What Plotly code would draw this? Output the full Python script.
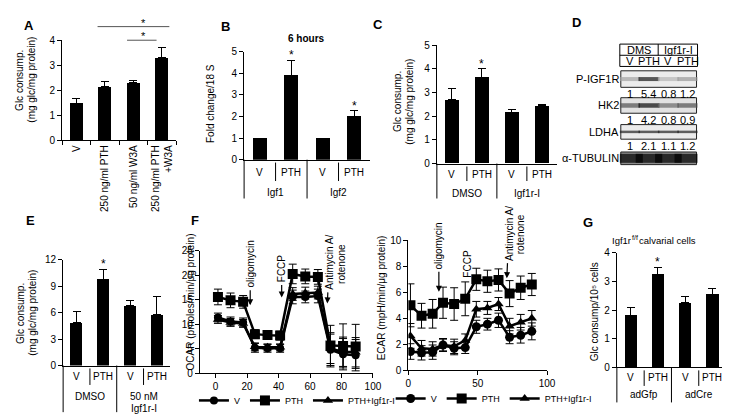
import plotly.graph_objects as go

W, H = 730, 415
FONT = "Liberation Sans, Arial, sans-serif"

# ---------------- data ----------------
A_labels = ["V", "250 ng/ml PTH", "50 ng/ml W3A", "250 ng/ml PTH<br>+W3A"]
A_values = [1.47, 2.13, 2.30, 3.30]
A_errors = [0.20, 0.20, 0.07, 0.42]

B_sub = ["V", "PTH", "V", "PTH"]
B_groups = [["Igf1"], ["Igf2"]]
B_values = [1.0, 3.92, 1.0, 2.01]
B_errors = [0.0, 0.68, 0.0, 0.27]
B_stars = [1, 3]

C_sub = ["V", "PTH", "V", "PTH"]
C_groups = [["DMSO"], ["Igf1r-I"]]
C_values = [2.70, 3.65, 2.17, 2.43]
C_errors = [0.47, 0.35, 0.11, 0.08]
C_stars = [1]

D_top = ["DMS", "Igf1r-I"]
D_lanes = ["V", "PTH", "V", "PTH"]
D_blots = ["P-IGF1R", "HK2", "LDHA", "α-TUBULIN"]
D_quant = [["1", "5.4", "0.8", "1.2"],
           ["1", "4.2", "0.8", "0.9"],
           ["1", "2.1", "1.1", "1.2"]]
D_intensity = [[0.30, 0.90, 0.22, 0.35],
               [0.65, 0.95, 0.55, 0.65],
               [0.85, 0.85, 0.85, 0.85],
               [1.00, 1.00, 1.00, 1.00]]

E_sub = ["V", "PTH", "V", "PTH"]
E_groups = [["DMSO"], ["50 nM", "Igf1r-I"]]
E_values = [4.9, 9.8, 6.75, 5.75]
E_errors = [1.2, 1.1, 0.65, 2.1]
E_stars = [1]

F_time = [1.5, 9.5, 17.5, 25, 33, 41, 49, 57, 65, 73, 81, 89]
OCAR_V = [11.4, 10.6, 10.4, 5.2, 5.1, 5.1, 15.6, 15.6, 15.8, 4.8, 3.9, 3.7]
OCAR_V_err = [0.9, 0.9, 0.9, 0.9, 0.8, 0.8, 1.4, 1.2, 1.4, 3.5, 3.2, 3.2]
OCAR_PTH = [15.6, 14.9, 14.6, 8.0, 7.8, 7.7, 20.3, 19.8, 19.7, 5.7, 5.6, 5.5]
OCAR_PTH_err = [1.6, 1.5, 1.3, 0.9, 0.8, 0.9, 2.0, 1.5, 1.5, 4.1, 4.5, 4.5]
OCAR_PI = [11.0, 10.4, 10.2, 5.4, 5.3, 5.3, 16.2, 16.4, 16.5, 5.0, 4.4, 4.3]
OCAR_PI_err = [0.8, 0.8, 0.8, 0.8, 0.7, 0.7, 1.3, 1.2, 1.3, 3.0, 3.0, 3.0]

ECAR_V = [1.45, 1.35, 1.40, 1.95, 1.70, 1.75, 3.35, 3.55, 3.85, 2.55, 2.70, 3.00]
ECAR_V_err = [0.6, 0.55, 0.55, 0.45, 0.5, 0.45, 0.5, 0.45, 0.55, 0.5, 0.6, 0.65]
ECAR_PTH = [5.0, 4.2, 4.35, 5.2, 5.1, 5.5, 7.0, 6.85, 6.95, 5.9, 6.35, 6.6]
ECAR_PTH_err = [1.65, 0.95, 1.1, 1.2, 1.25, 1.3, 0.85, 0.85, 0.85, 1.0, 0.9, 0.85]
ECAR_PI = [2.65, 1.70, 1.65, 1.95, 1.85, 2.30, 4.70, 4.80, 5.10, 3.40, 3.70, 4.00]
ECAR_PI_err = [0.95, 0.6, 0.55, 0.5, 0.55, 0.5, 0.6, 0.5, 0.5, 0.6, 0.6, 0.6]
F_series = ["V", "PTH", "PTH+Igf1r-I"]
F_injections = [["oligomycin"], ["FCCP"], ["Antimycin A/", "rotenone"]]
F_inj_time = [22, 42, 71]

G_sub = ["V", "PTH", "V", "PTH"]
G_groups = [["adGfp"], ["adCre"]]
G_values = [1.83, 3.25, 2.27, 2.56]
G_errors = [0.25, 0.25, 0.20, 0.21]
G_stars = [1]
G_title = ["Igf1r", "f/f", "calvarial cells"]

GLC_TITLE = ["Glc consump.", "(mg glc/mg protein)"]


# ---------------- helpers ----------------
def fx(px):
    return px / W


def fy(py):
    return 1 - py / H


fig = go.Figure()
annotations = []
shapes = []
layout_axes = {}


def names(n):
    return ("x" if n == 1 else f"x{n}", "y" if n == 1 else f"y{n}")


def lnames(n):
    return ("xaxis" if n == 1 else f"xaxis{n}", "yaxis" if n == 1 else f"yaxis{n}")


def text(x, y, s, size=10, bold=False, angle=0, xanchor="center", yanchor="middle",
         xref="paper", yref="paper", yshift=0, xshift=0, pad=1):
    annotations.append(dict(x=x, y=y, xref=xref, yref=yref,
                            text=f"<b>{s}</b>" if bold else s, showarrow=False,
                            font=dict(size=size, family=FONT, color="black"),
                            textangle=angle, xanchor=xanchor, yanchor=yanchor,
                            yshift=yshift, xshift=xshift, borderpad=pad))


def vtext(xc, yc, lines, size=10, gap=12):
    """Vertical (rotated) multi-line title: one annotation per line."""
    n = len(lines)
    for i, s in enumerate(lines):
        text(fx(xc + (i - (n - 1) / 2) * gap), fy(yc), s, size, angle=-90)


def vline(xp, y0p, y1p, width=1):
    shapes.append(dict(type="line", xref="paper", yref="paper", x0=fx(xp), x1=fx(xp),
                       y0=fy(y0p), y1=fy(y1p), line=dict(color="black", width=width)))


def hline(x0p, x1p, yp, width=1, color="black"):
    shapes.append(dict(type="line", xref="paper", yref="paper", x0=fx(x0p), x1=fx(x1p),
                       y0=fy(yp), y1=fy(yp), line=dict(color=color, width=width)))


def axis_common():
    return dict(showline=True, linecolor="black", linewidth=1, showgrid=False,
                zeroline=False, fixedrange=True,
                tickfont=dict(size=10, family=FONT, color="black"))


def bar_panel(n, values, errors, xpx, ypx, yrange, dtick, stars):
    xa, ya = names(n)
    k = len(values)
    fig.add_trace(go.Bar(
        x=list(range(k)), y=values, width=0.45,
        marker=dict(color="black", line=dict(width=0)),
        error_y=dict(type="data", array=errors, arrayminus=[0] * k, symmetric=False,
                     color="black", thickness=1, width=4),
        xaxis=xa, yaxis=ya, showlegend=False, hoverinfo="skip"))
    lx, ly = lnames(n)
    ax = axis_common()
    ax.update(domain=[fx(xpx[0]), fx(xpx[1])], range=[-0.5, k - 0.5], anchor=ya,
              showticklabels=False, ticks="", tickmode="array", tickvals=[])
    ay = axis_common()
    ay.update(domain=[fy(ypx[1]), fy(ypx[0])], range=list(yrange), dtick=dtick,
              anchor=xa, ticks="outside", ticklen=4, tickcolor="black")
    layout_axes[lx] = ax
    layout_axes[ly] = ay
    for i in stars:
        text(i, values[i] + errors[i], "*", size=12, xref=xa, yref=ya,
             yanchor="bottom", yshift=-4)


def table(n, sub, groups, xpx, axis_px, row1, row2top, subbot, grpbot):
    xa, ya = names(n)
    k = len(sub)
    per = k // len(groups)
    step = (xpx[1] - xpx[0]) / k
    for i, s in enumerate(sub):
        text(i, fy(row1), s, 10, xref=xa)
    for g, lines in enumerate(groups):
        for li, s in enumerate(lines):
            text(g * per + (per - 1) / 2, fy(row2top + 13 * li), s, 10, xref=xa,
                 yanchor="top")
    for b in range(k):
        xp = xpx[0] + b * step
        if b % per == 0:
            vline(xp, axis_px, grpbot)
        else:
            vline(xp, axis_px + 3, subbot)


# ---------------- Panel A ----------------
bar_panel(1, A_values, A_errors, (52, 168), (27, 130), (0, 4), 1, [])
layout_axes["xaxis"].update(showticklabels=True, tickvals=list(range(4)),
                            ticktext=A_labels, tickangle=-90,
                            minor=dict(tickvals=[-0.5, 0.5, 1.5, 2.5, 3.5],
                                       ticks="outside", ticklen=4, tickcolor="black"))
# significance brackets
hline(88, 161, 13, color="#555")
hline(118, 148, 27, color="#555")
text(fx(135), fy(9), "*", 11)
text(fx(135), fy(23), "*", 11)
vtext(14, 68, GLC_TITLE)
text(fx(18), fy(12), "A", 13, bold=True)

# ---------------- Panel B ----------------
bar_panel(2, B_values, B_errors, (237, 365), (39, 150), (0, 5), 1, B_stars)
table(2, B_sub, B_groups, (237, 365), 150, 163, 176, 172, 190)
text(fx(300), fy(25), "6 hours", 10, bold=True)
vtext(203, 92, ["Fold change/18 S"])
text(fx(218), fy(13), "B", 13, bold=True)

# ---------------- Panel C ----------------
bar_panel(3, C_values, C_errors, (433, 555), (32, 154), (0, 5), 1, C_stars)
table(3, C_sub, C_groups, (433, 555), 154, 165, 177, 172, 190)
vtext(399, 90, GLC_TITLE)
text(fx(373), fy(11), "C", 13, bold=True)

# ---------------- Panel D (western blot) ----------------
D_x0, D_x1 = 619, 698
D_row_c0, D_row_step = 67, 27.2
D_box_h = [17, 16, 15, 13]
xa4, ya4 = names(4)
bx, by, bsize, bwid, bcol = [], [], [], [], []
for r, row in enumerate(D_intensity):
    for i, v in enumerate(row):
        bx.append(i + 0.5)
        by.append(r)
        g = int(round(235 * (1 - v)))
        bcol.append(f"rgb({g},{g},{g})")
        bsize.append(19 if r == 3 else 15)
        bwid.append([4, 4.5, 2.5, 9][r])
fig.add_trace(go.Scatter(x=bx, y=by, mode="markers", xaxis=xa4, yaxis=ya4,
                         marker=dict(symbol="line-ew", size=bsize, color="black",
                                     line=dict(width=bwid, color=bcol)),
                         showlegend=False, hoverinfo="skip"))
layout_axes["xaxis4"] = dict(domain=[fx(D_x0), fx(D_x1)], range=[0, 4], visible=False,
                             anchor=ya4, fixedrange=True, tickfont=dict(size=10))
layout_axes["yaxis4"] = dict(domain=[fy(D_row_c0 + 3.5 * D_row_step), fy(D_row_c0 - 0.5 * D_row_step)],
                             range=[3.5, -0.5], visible=False, anchor=xa4, fixedrange=True,
                             tickfont=dict(size=10))
box_fill = ["#ececec", "#e2e2e2", "#ebebeb", "#8c8c8c"]
for r, name in enumerate(D_blots):
    c = D_row_c0 + r * D_row_step
    h = D_box_h[r]
    shapes.append(dict(type="rect", xref="paper", yref="paper", layer="below",
                       x0=fx(D_x0 + 1), x1=fx(D_x1 - 1), y0=fy(c + h / 2), y1=fy(c - h / 2),
                       fillcolor=box_fill[r], line=dict(color="#222", width=1)))
    text(fx(D_x0 + 1), fy(c), name, 11, xanchor="right")
for r, q in enumerate(D_quant):
    c = D_row_c0 + r * D_row_step + 15
    for i, s in enumerate(q):
        text(i + 0.5, fy(c), s, 11, xref=xa4)
# header box
shapes.append(dict(type="rect", xref="paper", yref="paper", x0=fx(D_x0), x1=fx(D_x1),
                   y0=fy(54), y1=fy(31), line=dict(color="black", width=1)))
hline(D_x0, D_x1, 42.5)
vline((D_x0 + D_x1) / 2 - 0.5, 31, 42.5)
for g, s in enumerate(D_top):
    text(g * 2 + 1, fy(37), s, 11, xref=xa4)
for i, s in enumerate(D_lanes):
    text(i + 0.5, fy(48.5), s, 11, xref=xa4)
text(fx(575), fy(9), "D", 13, bold=True)

# ---------------- Panel E ----------------
bar_panel(5, E_values, E_errors, (53, 162), (253, 362), (0, 12), 3, E_stars)
table(5, E_sub, E_groups, (53, 162), 362, 373, 386, 382, 410)
vtext(15, 308, GLC_TITLE)
text(fx(20), fy(213), "E", 13, bold=True)

# ---------------- Panel F ----------------
def line_trace(y, err, symbol, size, name, xa, ya, legend):
    return go.Scatter(x=F_time, y=y, mode="lines+markers", name=name,
                      line=dict(color="black", width=2.5),
                      marker=dict(symbol=symbol, size=size, color="black"),
                      error_y=dict(type="data", array=err, color="black", thickness=1, width=4),
                      xaxis=xa, yaxis=ya, legend=legend, hoverinfo="skip")


xa6, ya6 = names(6)
xa7, ya7 = names(7)
fig.add_trace(line_trace(OCAR_V, OCAR_V_err, "circle", 8, F_series[0], xa6, ya6, "legend"))
fig.add_trace(line_trace(OCAR_PTH, OCAR_PTH_err, "square", 10, F_series[1], xa6, ya6, "legend"))
fig.add_trace(line_trace(OCAR_PI, OCAR_PI_err, "triangle-up", 9, F_series[2], xa6, ya6, "legend"))
fig.add_trace(line_trace(ECAR_V, ECAR_V_err, "circle", 9, F_series[0], xa7, ya7, "legend2"))
fig.add_trace(line_trace(ECAR_PTH, ECAR_PTH_err, "square", 10, F_series[1], xa7, ya7, "legend2"))
fig.add_trace(line_trace(ECAR_PI, ECAR_PI_err, "triangle-up", 9, F_series[2], xa7, ya7, "legend2"))

ax6 = axis_common()
ax6.update(domain=[fx(192), fx(368)], range=[-10, 100], tickvals=[0, 20, 40, 60, 80, 100],
           ticks="outside", ticklen=4, tickcolor="black", anchor=ya6)
ay6 = axis_common()
ay6.update(domain=[fy(370), fy(244)], range=[0, 25], dtick=5, ticks="outside", ticklen=4,
           tickcolor="black", anchor=xa6)
ax7 = axis_common()
ax7.update(domain=[fx(404), fx(545)], range=[0, 100], dtick=50, ticks="outside", ticklen=4,
           tickcolor="black", anchor=ya7)
ay7 = axis_common()
ay7.update(domain=[fy(367), fy(233)], range=[0, 10], dtick=2, ticks="outside", ticklen=4,
           tickcolor="black", anchor=xa7)
layout_axes.update(xaxis6=ax6, yaxis6=ay6, xaxis7=ax7, yaxis7=ay7)

vtext(182, 297, ["OCAR (pmoles/min/μg protein)"])
vtext(377, 292, ["ECAR (mpH/min/μg protein)"])
text(fx(187), fy(213), "F", 13, bold=True)

# injection labels with arrows: (label centre y, arrow head y) in px
ocar_lbl = [(259, 300), (263, 292), (257, 298)]
ecar_lbl = [(240, 286), (258, 276), (227, 272)]
for (lbls, xa) in ((ocar_lbl, xa6), (ecar_lbl, xa7)):
    for j, lines in enumerate(F_injections):
        yc, head = lbls[j]
        xoff = 2 if len(lines) > 1 else 0
        annotations.append(dict(x=F_inj_time[j], y=fy(head), xref=xa, yref="paper",
                                text=lines[0], showarrow=True, ax=xoff, ay=yc - head,
                                textangle=-90, arrowhead=2, arrowsize=1,
                                arrowwidth=1.2, arrowcolor="black", standoff=0,
                                startstandoff=1,
                                font=dict(size=10, family=FONT, color="black")))
        for li, s in enumerate(lines[1:], start=1):
            text(F_inj_time[j], fy(yc), s, 10, angle=-90, xref=xa, xshift=xoff + 12 * li)

# ---------------- Panel G ----------------
bar_panel(8, G_values, G_errors, (616, 727), (246, 364), (0, 4), 1, G_stars)
table(8, G_sub, G_groups, (616, 727), 364, 374, 384, 383, 400)
# title "Igf1r^(f/f) calvarial cells" built from three plain pieces
text(fx(631), fy(233), G_title[0], 9.5, xanchor="right", pad=0)
text(fx(630.5), fy(230.5), G_title[1], 7, xanchor="left", pad=0)
text(fx(637), fy(233), G_title[2], 9.5, xanchor="left", pad=0)
vtext(593, 307, ["Glc consump/10⁵ cells"])
text(fx(587), fy(215), "G", 13, bold=True)

legend_common = dict(orientation="h", xanchor="left", yanchor="top",
                     font=dict(size=9, family=FONT, color="black"),
                     bgcolor="rgba(0,0,0,0)", itemwidth=30, tracegroupgap=0,
                     traceorder="normal")
fig.update_layout(
    width=W, height=415, margin=dict(l=0, r=0, t=0, b=0),
    paper_bgcolor="white", plot_bgcolor="rgba(0,0,0,0)",
    font=dict(family=FONT, size=10, color="black"),
    showlegend=True,
    legend=dict(x=fx(186), y=fy(383), **legend_common),
    legend2=dict(x=fx(386), y=fy(381), **legend_common),
    annotations=annotations, shapes=shapes, bargap=0,
    **layout_axes)

fig.write_html("out.html")
